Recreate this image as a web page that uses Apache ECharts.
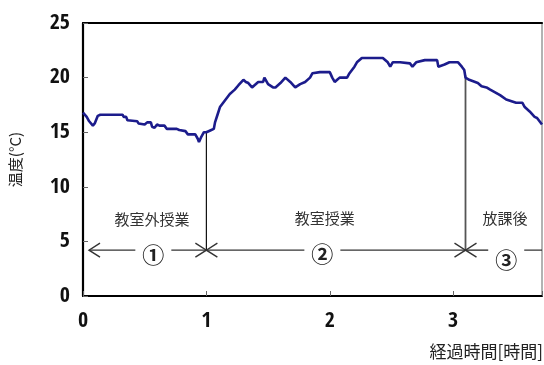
<!DOCTYPE html>
<html>
<head>
<meta charset="utf-8">
<script src="https://cdn.jsdelivr.net/npm/echarts@6/dist/echarts.min.js"></script>
<style>
  html, body { margin: 0; padding: 0; background: #fff; }
  #chart { width: 544px; height: 365px; }
</style>
</head>
<body>
<div id="chart"></div>
<script>
// Classroom temperature log: elapsed time [h] vs temperature [°C]
const hours = [
  0.00, 0.03, 0.05, 0.065, 0.08, 0.095, 0.11, 0.12, 0.14, 0.32,
  0.33, 0.35, 0.36, 0.44, 0.45, 0.50, 0.52, 0.55, 0.56, 0.58,
  0.60, 0.62, 0.66, 0.68, 0.76, 0.78, 0.83, 0.85, 0.91, 0.93,
  0.94, 0.96, 0.98, 1.00, 1.04, 1.06, 1.07, 1.09, 1.11, 1.15,
  1.19, 1.23, 1.26, 1.30, 1.32, 1.34, 1.37, 1.39, 1.42, 1.46,
  1.47, 1.50, 1.54, 1.56, 1.60, 1.64, 1.68, 1.72, 1.76, 1.80,
  1.84, 1.86, 1.92, 2.00, 2.02, 2.04, 2.06, 2.08, 2.14, 2.16,
  2.20, 2.22, 2.26, 2.43, 2.47, 2.49, 2.51, 2.57, 2.65, 2.67,
  2.70, 2.77, 2.83, 2.87, 2.88, 2.93, 2.97, 3.04, 3.07, 3.09,
  3.10, 3.13, 3.20, 3.23, 3.27, 3.30, 3.38, 3.43, 3.51, 3.56,
  3.58, 3.62, 3.66, 3.68, 3.72
];
const temps = [
  16.8, 16.4, 16.0, 15.9, 15.6, 15.8, 15.9, 16.5, 16.6, 16.6,
  16.4, 16.4, 16.1, 16.0, 15.8, 15.7, 15.9, 15.9, 15.5, 15.4,
  15.7, 15.6, 15.6, 15.3, 15.3, 15.2, 15.1, 14.8, 14.8, 14.4,
  14.1, 14.6, 15.0, 15.0, 15.2, 15.3, 15.9, 16.6, 17.3, 17.9,
  18.5, 18.9, 19.3, 19.8, 19.6, 19.5, 19.1, 19.3, 19.6, 19.6,
  20.0, 19.4, 19.1, 19.1, 19.5, 20.0, 19.6, 19.1, 19.4, 19.6,
  20.0, 20.4, 20.5, 20.5, 20.0, 19.6, 19.8, 20.0, 20.0, 20.4,
  21.0, 21.4, 21.8, 21.8, 21.4, 21.0, 21.4, 21.4, 21.3, 21.0,
  21.4, 21.6, 21.6, 21.6, 21.0, 21.2, 21.4, 21.4, 21.0, 20.7,
  20.0, 19.8, 19.5, 19.2, 19.1, 18.9, 18.4, 18.0, 17.7, 17.7,
  17.3, 16.9, 16.4, 16.3, 15.7
];
const xTicks = [0, 1, 2, 3];
const yTicks = [0, 5, 10, 15, 20, 25];
const xMax = 3.72;

// Lesson periods: start hour, end hour, name, number
const periodStarts = [0, 1, 3.1];
const periodEnds = [1, 3.1, 3.95];
const periodNames = ['教室外授業', '教室授業', '放課後'];
const periodMarks = ['①', '②', '③'];
const periodDividers = [1, 3.1];
const dividerTops = [15.0, 20.2];

// Layout of the period annotations (in axis units)
const arrowLevel = 4.2;
const nameAt = [[0.56, 7.0], [1.96, 7.1], [3.42, 7.1]];
const markAt = [[0.57, 3.75], [1.94, 3.9], [3.43, 3.3]];

const numFont = '"Open Sans Condensed", "Roboto Condensed", sans-serif';
const cjkFont = '"Noto Sans CJK JP", "Noto Sans", sans-serif';

function renderPeriods(params, api) {
  const children = [];
  const yArrow = api.coord([0, arrowLevel])[1];
  const px = h => api.coord([h, arrowLevel])[0];
  const stroke = { stroke: '#333', lineWidth: 1.4, fill: null };
  const arm = 11, spread = 7, gapHalf = 18;

  // Dividers between periods
  periodDividers.forEach((h, i) => {
    const top = api.coord([h, dividerTops[i]]);
    children.push({
      type: 'line',
      shape: { x1: top[0], y1: top[1], x2: top[0], y2: yArrow },
      style: { stroke: i === 0 ? '#111' : '#555', lineWidth: i === 0 ? 1.2 : 1.8 }
    });
  });

  periodStarts.forEach((s, i) => {
    const x1 = px(s) + (i === 0 ? 6 : 0);
    const x2 = px(periodEnds[i]);
    const mx = api.coord(markAt[i])[0];
    // arrow shaft, broken around the number
    children.push({ type: 'line', shape: { x1: x1, y1: yArrow, x2: mx - gapHalf, y2: yArrow }, style: stroke });
    children.push({ type: 'line', shape: { x1: mx + gapHalf, y1: yArrow, x2: x2, y2: yArrow }, style: stroke });
    // open arrow heads
    children.push({ type: 'polyline', shape: { points: [[x1 + arm, yArrow - spread], [x1, yArrow], [x1 + arm, yArrow + spread]] }, style: stroke });
    children.push({ type: 'polyline', shape: { points: [[x2 - arm, yArrow - spread], [x2, yArrow], [x2 - arm, yArrow + spread]] }, style: stroke });

    const np = api.coord(nameAt[i]);
    children.push({
      type: 'text', x: np[0], y: np[1],
      style: { text: periodNames[i], fill: '#333', font: '15px ' + cjkFont, align: 'center', verticalAlign: 'middle' }
    });
    const mp = api.coord(markAt[i]);
    children.push({
      type: 'text', x: mp[0], y: mp[1],
      style: { text: periodMarks[i], fill: '#222', font: 'bold 22px ' + cjkFont, align: 'center', verticalAlign: 'middle' }
    });
  });
  return { type: 'group', children: children };
}

const chart = echarts.init(document.getElementById('chart'), null, { renderer: 'canvas' });
chart.setOption({
  animation: false,
  backgroundColor: '#fff',
  grid: {
    left: 83, right: 2, top: 23, bottom: 69,
    containLabel: false, outerBoundsMode: 'none',
    show: true, borderColor: '#666', borderWidth: 1
  },
  xAxis: [{
    type: 'value', min: xTicks[0], max: xMax, interval: 1,
    axisLine: { lineStyle: { color: '#000', width: 2.2 } },
    axisTick: { inside: true, length: 5, lineStyle: { color: '#666', width: 1 } },
    axisLabel: {
      margin: 14, color: '#111', fontFamily: numFont, fontWeight: 'bold', fontSize: 22,
      formatter: v => (xTicks.indexOf(v) >= 0 ? String(v) : '')
    },
    splitLine: { show: false }
  }, {
    type: 'value', position: 'top', min: 0, max: xMax,
    axisLine: { show: true, onZero: false, lineStyle: { color: '#000', width: 2.2 } },
    axisTick: { show: false }, axisLabel: { show: false }, splitLine: { show: false }
  }],
  yAxis: {
    type: 'value', min: yTicks[0], max: yTicks[yTicks.length - 1], interval: 5,
    name: '温度(°C)', nameLocation: 'middle', nameGap: 60, nameRotate: 90,
    nameTextStyle: { fontFamily: cjkFont, fontSize: 15, color: '#222' },
    axisLine: { show: true, lineStyle: { color: '#000', width: 2.2 } },
    axisTick: { inside: true, length: 5, lineStyle: { color: '#666', width: 1 } },
    axisLabel: { margin: 13, color: '#111', fontFamily: numFont, fontWeight: 'bold', fontSize: 22 },
    splitLine: { show: false }
  },
  graphic: [{
    type: 'text', right: 1, top: 343,
    style: { text: '経過時間[時間]', fill: '#222', font: '17px ' + cjkFont }
  }],
  series: [{
    type: 'line',
    data: hours.map((h, i) => [h, temps[i]]),
    showSymbol: false,
    lineStyle: { color: '#1c1c8c', width: 2.6 },
    clip: true,
    z: 3
  }, {
    type: 'custom',
    data: [[0, arrowLevel]],
    renderItem: renderPeriods,
    clip: true,
    silent: true,
    z: 2
  }]
});
</script>
</body>
</html>
